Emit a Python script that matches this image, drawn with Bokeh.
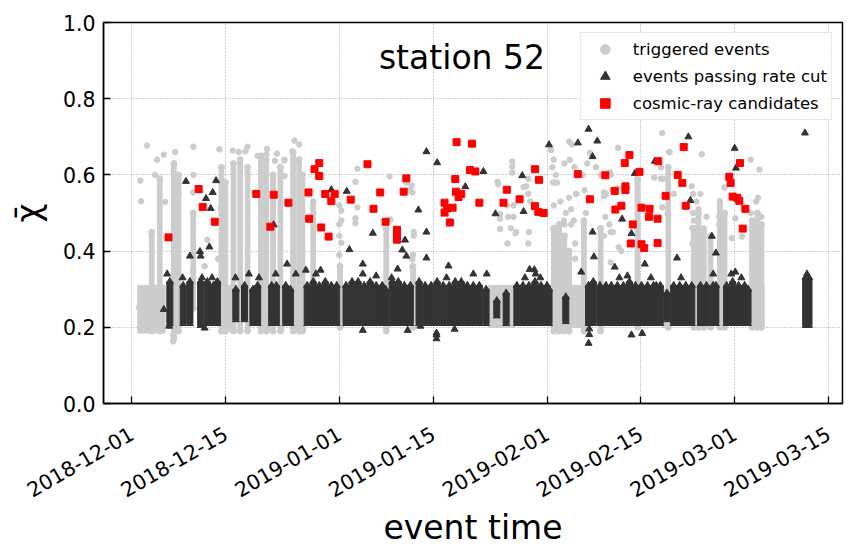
import pandas as pd
from bokeh.plotting import figure
from bokeh.models import (Range1d, FixedTicker, DatetimeTickFormatter, Label,
                          Legend, LegendItem, PrintfTickFormatter)
from bokeh.embed import file_html
from bokeh.resources import INLINE

# ---------------- data (x values are days since 2018-12-01) ----------------
START = "2018-12-01"

# low-lying triggered events visible between the bands (lightgray)
gray_seg_start = [0.9, 13.2, 19.2, 21.9, 24.0, 30.9, 38.2, 42.0, 53.3, 62.5, 79.3, 92.2]
gray_seg_end = [5.0, 15.2, 20.6, 22.7, 26.0, 31.6, 38.6, 42.6, 57.2, 67.9, 80.5, 94.4]
gray_seg_lo = [0.185, 0.19, 0.19, 0.19, 0.19, 0.20, 0.20, 0.20, 0.20, 0.20, 0.20, 0.20]
gray_seg_hi = [0.31, 0.31, 0.31, 0.31, 0.31, 0.30, 0.30, 0.30, 0.31, 0.31, 0.30, 0.31]

# dense triggered-event columns: centre day, low, high
gray_col_day = [3.0, 4.2, 6.3, 7.0, 9.2, 13.4, 14.0, 15.2, 16.2, 17.3, 19.3, 20.1, 21.1, 22.2,
                24.1, 25.0, 25.5, 27.1, 31.1, 38.0, 42.0, 63.0, 63.8, 64.6, 65.3, 67.5,
                70.0, 75.5, 80.1, 83.9, 84.6, 85.4, 86.4, 87.8, 88.5, 92.6, 93.4, 94.0]
gray_col_lo = [0.19, 0.19, 0.17, 0.19, 0.25, 0.19, 0.19, 0.19, 0.19, 0.19, 0.19, 0.19, 0.19, 0.19,
               0.19, 0.19, 0.19, 0.22, 0.20, 0.19, 0.20, 0.19, 0.19, 0.19, 0.19, 0.19,
               0.19, 0.20, 0.20, 0.20, 0.20, 0.20, 0.20, 0.20, 0.20, 0.20, 0.20, 0.20]
gray_col_hi = [0.45, 0.59, 0.63, 0.60, 0.50, 0.62, 0.58, 0.63, 0.64, 0.62, 0.65, 0.64, 0.60, 0.62,
               0.66, 0.64, 0.60, 0.53, 0.36, 0.46, 0.36, 0.46, 0.47, 0.44, 0.40, 0.48,
               0.46, 0.59, 0.62, 0.46, 0.50, 0.45, 0.44, 0.53, 0.50, 0.48, 0.50, 0.47]

# isolated triggered events
gray_pt_day = [1.3, 1.4, 2.3, 1.1, 4.8, 9.2, 9.2, 9.2, 10.2, 13.1, 13.3, 15.1, 17.3, 20.2, 21.7,
               5.0, 6.2, 6.2, 3.8, 6.5, 7.0, 3.5, 16.0, 18.8, 22.8, 24.3, 25.0, 11.3, 12.9,
               9.2, 10.9, 17.0, 20.1, 21.4, 24.0, 22.8, 22.8,
               31.3, 31.3, 31.3, 31.0, 31.0, 31.0, 31.0, 33.7, 33.4, 33.7, 33.4, 33.4, 38.5,
               38.6, 41.0, 41.8, 41.9, 42.1, 42.1, 41.9, 41.9, 42.0, 41.5,
               54.6, 56.8, 56.8, 56.8, 56.0, 57.0, 56.2, 57.0, 56.6, 57.4, 56.1, 59.2, 58.9,
               59.2, 59.5, 59.3, 55.0, 55.0, 55.0, 54.7, 58.5, 59.2, 57.3,
               62.6, 63.0, 62.8, 63.3, 63.5, 62.9, 63.2, 65.3, 64.6, 65.4, 66.3, 65.3, 64.0,
               63.0, 64.8, 65.6, 64.5, 64.6, 65.6, 66.0, 68.4, 72.6, 70.8, 71.7, 72.5, 71.5,
               70.7, 71.8, 70.5, 73.1, 71.5, 69.3, 70.0, 68.0, 67.3, 71.4, 70.5, 70.5, 66.2,
               66.2, 65.7, 66.1, 66.4, 67.6, 67.8, 71.3, 71.5, 72.7, 80.3, 79.0, 79.0, 78.0,
               79.2, 80.2, 85.1, 92.4, 93.7, 79.3, 79.2, 83.6, 83.8, 84.9, 84.3, 84.6, 85.8,
               85.4, 83.8, 83.9, 83.7, 84.6, 84.8, 83.7, 84.7, 88.5, 87.7, 87.7, 89.6, 90.1,
               91.1, 92.4, 93.2, 93.5, 94.0, 80.9, 80.0]
gray_pt_val = [0.585, 0.531, 0.677, 0.252, 0.653, 0.674, 0.600, 0.554, 0.557, 0.667, 0.513, 0.664,
               0.674, 0.668, 0.656, 0.529, 0.180, 0.163, 0.640, 0.660, 0.550, 0.600, 0.660, 0.650,
               0.640, 0.690, 0.680, 0.430, 0.380, 0.350, 0.360, 0.662, 0.654, 0.637, 0.662,
               0.638, 0.597,
               0.506, 0.480, 0.422, 0.520, 0.470, 0.440, 0.390, 0.616, 0.582, 0.515, 0.486, 0.473,
               0.596, 0.483, 0.580, 0.572, 0.554, 0.450, 0.440, 0.378, 0.358, 0.390, 0.560,
               0.582, 0.635, 0.622, 0.606, 0.520, 0.520, 0.490, 0.490, 0.460, 0.450, 0.420, 0.420,
               0.570, 0.550, 0.530, 0.450, 0.485, 0.458, 0.497, 0.576, 0.568, 0.590, 0.447,
               0.665, 0.640, 0.620, 0.600, 0.580, 0.580, 0.580, 0.687, 0.630, 0.640, 0.550, 0.540,
               0.530, 0.520, 0.500, 0.510, 0.480, 0.470, 0.470, 0.480, 0.658, 0.671, 0.550, 0.560,
               0.565, 0.600, 0.490, 0.450, 0.440, 0.400, 0.370, 0.620, 0.600, 0.630, 0.600, 0.607,
               0.554, 0.544, 0.380, 0.420, 0.680, 0.620, 0.550, 0.560, 0.500, 0.470, 0.450, 0.410,
               0.660, 0.620, 0.590, 0.593,
               0.710, 0.660, 0.654, 0.640, 0.614, 0.590, 0.515, 0.570, 0.550, 0.550, 0.530, 0.510,
               0.490, 0.460, 0.500, 0.480, 0.460, 0.440, 0.430, 0.420, 0.390, 0.567, 0.491, 0.469,
               0.434, 0.486, 0.438, 0.500, 0.530, 0.540, 0.490, 0.550, 0.500]

# dense bands of events passing the rate cut: centre day, low, high
black_day = [5.7, 7.7, 8.7, 10.3, 11.3, 12.2, 12.8, 15.55, 16.85, 18.1, 18.8, 20.9, 21.6, 23.0,
             23.7, 26.2, 27.1, 28.0, 28.9, 29.8, 30.6, 32.0, 32.9, 33.8, 34.7, 35.6, 36.5, 37.4,
             37.9, 38.9, 39.8, 40.7, 41.6, 42.9, 43.8, 44.7, 45.6, 46.5, 47.4, 48.3, 49.2, 50.1,
             51.0, 51.9, 52.9, 54.5, 55.9, 57.5, 58.4, 59.3, 60.2, 61.1, 62.0, 62.3, 64.8, 68.2,
             68.9, 69.9, 70.8, 71.6, 72.5, 73.4, 74.3, 75.2, 76.1, 77.0, 77.9, 78.3, 78.9, 79.9,
             80.9, 81.8, 82.7, 83.6, 84.9, 85.8, 86.8, 87.2, 88.8, 89.7, 90.6, 91.5, 92.0, 100.6,
             101.1]
black_lo = [0.21, 0.21, 0.21, 0.205, 0.21, 0.21, 0.21, 0.22, 0.22, 0.21, 0.21, 0.21, 0.21, 0.21,
            0.21, 0.21, 0.21, 0.21, 0.21, 0.21, 0.21, 0.21, 0.21, 0.21, 0.21, 0.21, 0.21, 0.21,
            0.21, 0.21, 0.21, 0.21, 0.21, 0.21, 0.21, 0.21, 0.21, 0.21, 0.21, 0.21, 0.21, 0.21,
            0.21, 0.21, 0.21, 0.23, 0.21, 0.21, 0.21, 0.21, 0.21, 0.21, 0.21, 0.21, 0.215, 0.21,
            0.21, 0.21, 0.21, 0.21, 0.21, 0.21, 0.21, 0.21, 0.21, 0.21, 0.21, 0.21, 0.21, 0.22,
            0.21, 0.21, 0.21, 0.21, 0.21, 0.21, 0.21, 0.21, 0.21, 0.21, 0.21, 0.21, 0.21, 0.205,
            0.205]
black_hi = [0.32, 0.31, 0.32, 0.32, 0.32, 0.31, 0.32, 0.30, 0.31, 0.30, 0.31, 0.31, 0.31, 0.31,
            0.30, 0.31, 0.32, 0.31, 0.32, 0.31, 0.31, 0.31, 0.32, 0.32, 0.31, 0.32, 0.31, 0.31,
            0.30, 0.32, 0.32, 0.31, 0.31, 0.32, 0.31, 0.31, 0.32, 0.31, 0.31, 0.32, 0.32, 0.31,
            0.31, 0.31, 0.30, 0.27, 0.29, 0.31, 0.31, 0.31, 0.32, 0.31, 0.31, 0.30, 0.28, 0.31,
            0.32, 0.31, 0.31, 0.31, 0.31, 0.31, 0.32, 0.31, 0.31, 0.31, 0.31, 0.31, 0.31, 0.29,
            0.31, 0.31, 0.31, 0.31, 0.31, 0.31, 0.31, 0.31, 0.31, 0.32, 0.31, 0.31, 0.30, 0.33,
            0.33]

# isolated events passing the rate cut
dark_pt_day = [8.1, 12.6, 12.1, 11.1, 11.8, 11.6, 10.2, 8.7, 10.3, 4.8, 5.6, 10.9, 23.2, 21.2,
               32.5, 32.1, 29.8, 44.0, 45.6, 42.8, 49.8, 36.0, 44.0, 40.8, 40.4, 41.0, 34.5,
               44.0, 47.3, 39.7, 34.5, 45.5, 45.5, 45.5, 34.5, 41.2, 43.1, 48.2, 68.2, 62.3,
               66.6, 69.5, 68.8, 52.5, 58.3, 54.3, 58.5, 75.1, 78.1, 73.2, 74.6, 68.8, 69.0,
               76.6, 60.1, 72.1, 68.2, 68.3, 74.6, 76.2, 68.3, 83.1, 100.5, 90.0, 90.2, 83.4,
               86.6, 81.4, 87.2, 67.1, 59.4,
               24.5, 26.0, 27.5, 28.2, 15.5, 17.5, 21.5, 19.0, 10.5, 12.0, 36.5, 38.8, 47.0,
               51.0, 53.0, 58.7, 60.3, 61.0, 72.8, 74.0, 77.5, 82.0, 86.8, 89.5, 90.1, 91.0,
               5.3, 7.6, 100.8]
dark_pt_val = [0.583, 0.585, 0.554, 0.538, 0.512, 0.411, 0.399, 0.387, 0.387, 0.247, 0.203,
               0.198, 0.366, 0.469, 0.404, 0.557, 0.561, 0.661, 0.632, 0.508, 0.569, 0.447,
               0.450, 0.429, 0.403, 0.387, 0.366, 0.382, 0.361, 0.353, 0.340, 0.170, 0.180,
               0.185, 0.192, 0.192, 0.203, 0.195, 0.720, 0.679, 0.684, 0.689, 0.648, 0.609,
               0.598, 0.498, 0.504, 0.604, 0.636, 0.484, 0.446, 0.450, 0.385, 0.366, 0.351,
               0.358, 0.158, 0.181, 0.180, 0.184, 0.196, 0.700, 0.710, 0.670, 0.618, 0.533,
               0.439, 0.382, 0.395, 0.345, 0.352,
               0.340, 0.350, 0.340, 0.350, 0.330, 0.340, 0.340, 0.330, 0.330, 0.330, 0.335,
               0.330, 0.330, 0.340, 0.340, 0.330, 0.340, 0.330, 0.330, 0.335, 0.330, 0.330,
               0.340, 0.340, 0.345, 0.330, 0.340, 0.330, 0.340]

# cosmic-ray candidates
red_day = [5.5, 10.0, 10.6, 12.4, 18.6, 20.7, 21.2, 23.4, 26.4, 26.5, 27.3, 28.0, 28.0, 28.3,
           28.9, 29.4, 29.8, 30.3, 32.7, 35.2, 36.1, 37.1, 37.9, 39.6, 39.6, 39.6, 40.6, 41.0,
           46.7, 46.7, 47.1, 47.5, 47.9, 48.3, 48.4, 48.5, 48.8, 49.2, 50.5, 50.8, 51.3, 51.9,
           55.5, 56.0, 57.9, 60.2, 60.2, 60.7, 60.8, 61.5, 66.6, 68.4, 70.7, 72.1, 72.2, 73.1,
           73.6, 73.7, 73.7, 74.3, 74.5, 74.8, 75.8, 76.1, 76.1, 76.5, 77.2, 77.3, 78.5, 78.5,
           78.6, 79.7, 81.5, 82.2, 82.4, 82.7, 89.2, 89.4, 89.7, 90.4, 90.7, 90.8, 91.2, 91.6]
red_val = [0.436, 0.563, 0.516, 0.477, 0.550, 0.464, 0.548, 0.527, 0.554, 0.485, 0.615, 0.631,
           0.597, 0.462, 0.550, 0.438, 0.531, 0.550, 0.535, 0.628, 0.511, 0.554, 0.477, 0.456,
           0.443, 0.430, 0.556, 0.591, 0.527, 0.501, 0.512, 0.475, 0.514, 0.589, 0.556, 0.686,
           0.542, 0.550, 0.613, 0.682, 0.609, 0.527, 0.527, 0.561, 0.536, 0.615, 0.518, 0.503,
           0.587, 0.500, 0.602, 0.536, 0.599, 0.558, 0.509, 0.519, 0.631, 0.570, 0.560, 0.652,
           0.420, 0.470, 0.608, 0.514, 0.418, 0.408, 0.490, 0.511, 0.485, 0.421, 0.636, 0.545,
           0.600, 0.579, 0.673, 0.519, 0.595, 0.579, 0.543, 0.540, 0.532, 0.631, 0.459, 0.511]

tick_dates = ["2018-12-01", "2018-12-15", "2019-01-01", "2019-01-15",
              "2019-02-01", "2019-02-15", "2019-03-01", "2019-03-15"]
y_ticks = [0.0, 0.2, 0.4, 0.6, 0.8, 1.0]

# ---------------- helpers ----------------
T0_MS = pd.Timestamp(START).value / 1e6
DAY_MS = 86400000.0


def t(days):
    return [T0_MS + d * DAY_MS for d in days]


GRAY = "#cccccc"
DARK = "#333333"
RED = "#ff0000"
FONT = "DejaVu Sans"

p = figure(width=848, height=549, x_axis_type="datetime", output_backend="svg",
           toolbar_location=None,
           x_range=Range1d(t([-4.2])[0], t([106.1])[0]), y_range=Range1d(0, 1),
           min_border_left=103, min_border_right=6, min_border_top=22, min_border_bottom=143)
p.background_fill_color = "white"
p.border_fill_color = "white"
p.outline_line_color = "black"
p.outline_line_width = 1.5

# grid
for g in (p.xgrid, p.ygrid):
    g.grid_line_color = "#8a8a8a"
    g.grid_line_dash = "1 2"
    g.grid_line_width = 0.8

# axes
p.xaxis.ticker = FixedTicker(ticks=[pd.Timestamp(s).value / 1e6 for s in tick_dates])
fmt = "%Y-%m-%d"
p.xaxis.formatter = DatetimeTickFormatter(microseconds=fmt, milliseconds=fmt, seconds=fmt,
                                          minsec=fmt, minutes=fmt, hourmin=fmt, hours=fmt,
                                          days=fmt, months=fmt, years=fmt)
p.xaxis.major_label_orientation = 0.5236
p.yaxis.ticker = FixedTicker(ticks=y_ticks)
p.yaxis.formatter = PrintfTickFormatter(format="%.1f")
for ax in (p.xaxis[0], p.yaxis[0]):
    ax.axis_line_width = 1.5
    ax.major_tick_in = 7
    ax.major_tick_out = 0
    ax.major_tick_line_width = 1.3
    ax.minor_tick_line_color = None
    ax.major_label_text_font = FONT
    ax.major_label_text_font_size = "20.5px"
    ax.major_label_text_color = "black"
    ax.axis_label_text_font = FONT
    ax.axis_label_text_font_size = "33px"
    ax.axis_label_text_font_style = "normal"
    ax.axis_label_text_color = "black"
p.xaxis.major_label_standoff = 28
p.yaxis.major_label_standoff = 8
p.xaxis.axis_label = "event time"
p.yaxis.axis_label = "\u03c7\u0304"
p.xaxis.axis_label_standoff = 0
p.yaxis.axis_label_standoff = 12

# glyphs
p.quad(left=t(gray_seg_start), right=t(gray_seg_end), bottom=gray_seg_lo, top=gray_seg_hi,
       fill_color=GRAY, line_color=GRAY)
p.vbar(x=t(gray_col_day), width=0.7 * DAY_MS, bottom=gray_col_lo, top=gray_col_hi,
       fill_color=GRAY, line_color=GRAY)
p.scatter(t(gray_col_day), gray_col_hi, marker="circle", size=6, fill_color=GRAY, line_color=GRAY)
p.scatter(t(gray_col_day), gray_col_lo, marker="circle", size=6, fill_color=GRAY, line_color=GRAY)
r_gray = p.scatter(t(gray_pt_day), gray_pt_val, marker="circle", size=5.5,
                   fill_color=GRAY, line_color=GRAY)
p.vbar(x=t(black_day), width=0.9 * DAY_MS, bottom=black_lo, top=black_hi,
       fill_color=DARK, line_color=DARK)
p.scatter(t(black_day), black_hi, marker="triangle", size=7, fill_color=DARK, line_color=DARK)
p.scatter(t(black_day), black_lo, marker="triangle", size=7, fill_color=DARK, line_color=DARK)
r_dark = p.scatter(t(dark_pt_day), dark_pt_val, marker="triangle", size=7,
                   fill_color=DARK, line_color=DARK)
r_red = p.scatter(t(red_day), red_val, marker="square", size=7,
                  fill_color=RED, line_color=RED)

# title inside the frame
p.add_layout(Label(x=t([49.3])[0], y=0.909, text="station 52", text_align="center",
                   text_baseline="alphabetic", text_font=FONT, text_font_size="33px",
                   text_color="black"))

legend = Legend(items=[LegendItem(label="triggered events", renderers=[r_gray]),
                       LegendItem(label="events passing rate cut", renderers=[r_dark]),
                       LegendItem(label="cosmic-ray candidates", renderers=[r_red])],
                location="top_right", margin=10, padding=4, spacing=3,
                glyph_width=40, glyph_height=24, label_height=24, label_standoff=8,
                label_text_font=FONT, label_text_font_size="16.5px",
                label_text_color="black",
                border_line_color="#cccccc", border_line_width=1.2,
                background_fill_alpha=0.8)
p.add_layout(legend)

open("out.html", "w").write(file_html(p, INLINE))
